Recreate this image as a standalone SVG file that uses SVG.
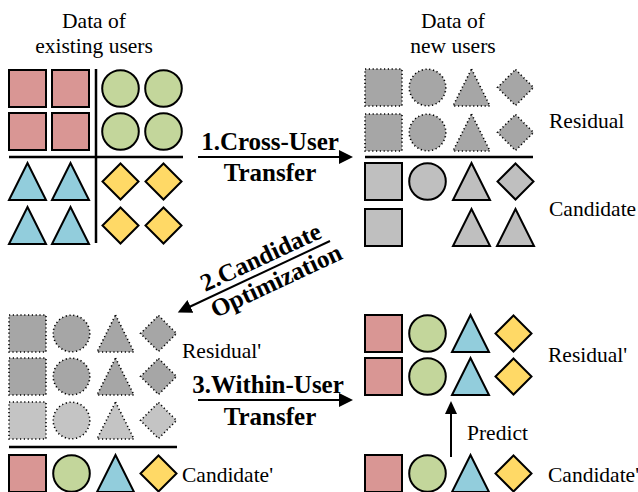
<svg xmlns="http://www.w3.org/2000/svg" width="638" height="492" viewBox="0 0 638 492">
<style>
text{font-family:"Liberation Serif","Times New Roman",serif;fill:#000}
.t{font-size:21.5px}
.b{font-size:25px;font-weight:bold}
.r{fill:#d99694;stroke:#000;stroke-width:2}
.g{fill:#c3d69b;stroke:#000;stroke-width:2}
.bl{fill:#92cddc;stroke:#000;stroke-width:2}
.y{fill:#ffd966;stroke:#000;stroke-width:2}
.c{fill:#bfbfbf;stroke:#000;stroke-width:2}
.d{fill:#a6a6a6;stroke:#000;stroke-width:1.6;stroke-dasharray:1.2 2.6}
.dl{fill:#c4c4c4;stroke:#000;stroke-width:1.6;stroke-dasharray:1.2 2.6}
.sep{stroke:#000;stroke-width:2.5;fill:none}
.arr{stroke:#000;stroke-width:2;fill:none}
</style>
<defs>
<rect id="sq" x="0" y="0" width="37" height="37"/>
<circle id="ci" cx="18.5" cy="18.5" r="18.3"/>
<path id="tr" d="M18.5 0 L37 37 L0 37 Z"/>
<path id="di" d="M18.5 0.5 L36.5 18.5 L18.5 36.5 L0.5 18.5 Z"/>
<marker id="ah" markerUnits="userSpaceOnUse" markerWidth="16" markerHeight="16" refX="6" refY="7" orient="auto">
<path d="M0 0 L14 7 L0 14 Z" fill="#000"/>
</marker>
<marker id="ahs" markerUnits="userSpaceOnUse" markerWidth="14" markerHeight="14" refX="5" refY="6" orient="auto">
<path d="M0 0 L13 6 L0 12 Z" fill="#000"/>
</marker>
</defs>

<g id="existing-users">
<text class="t" x="94" y="28" text-anchor="middle">Data of</text>
<text class="t" x="94" y="53" text-anchor="middle">existing users</text>
<use href="#sq" class="r" x="9" y="70"/><use href="#sq" class="r" x="52" y="70"/>
<use href="#sq" class="r" x="9" y="113"/><use href="#sq" class="r" x="52" y="113"/>
<use href="#ci" class="g" x="102" y="70"/><use href="#ci" class="g" x="145" y="70"/>
<use href="#ci" class="g" x="102" y="113"/><use href="#ci" class="g" x="145" y="113"/>
<use href="#tr" class="bl" x="9" y="163"/><use href="#tr" class="bl" x="52" y="163"/>
<use href="#tr" class="bl" x="9" y="207"/><use href="#tr" class="bl" x="52" y="207"/>
<use href="#di" class="y" x="102" y="163"/><use href="#di" class="y" x="145" y="163"/>
<use href="#di" class="y" x="102" y="207"/><use href="#di" class="y" x="145" y="207"/>
<path class="sep" d="M96 69 V243 M9 157 H183"/>
</g>

<g id="new-users">
<text class="t" x="453" y="28" text-anchor="middle">Data of</text>
<text class="t" x="453" y="53" text-anchor="middle">new users</text>
<use href="#sq" class="d" x="365" y="69"/><use href="#ci" class="d" x="409" y="69"/>
<use href="#tr" class="d" x="453" y="69"/><use href="#di" class="d" x="497" y="69"/>
<use href="#sq" class="d" x="365" y="114"/><use href="#ci" class="d" x="409" y="114"/>
<use href="#tr" class="d" x="453" y="114"/><use href="#di" class="d" x="497" y="114"/>
<path class="sep" d="M365 157 H533"/>
<use href="#sq" class="c" x="365" y="163"/><use href="#ci" class="c" x="409" y="163"/>
<use href="#tr" class="c" x="453" y="163"/><use href="#di" class="c" x="497" y="163"/>
<use href="#sq" class="c" x="365" y="209"/>
<use href="#tr" class="c" x="453" y="209"/><use href="#tr" class="c" x="497" y="209"/>
<text class="t" x="549" y="128">Residual</text>
<text class="t" x="549" y="216">Candidate</text>
</g>

<g id="optimized-existing">
<use href="#sq" class="d" x="9" y="315"/><use href="#ci" class="d" x="53" y="315"/>
<use href="#tr" class="d" x="97" y="315"/><use href="#di" class="d" x="140" y="315"/>
<use href="#sq" class="d" x="9" y="358"/><use href="#ci" class="d" x="53" y="358"/>
<use href="#tr" class="d" x="97" y="358"/><use href="#di" class="d" x="140" y="358"/>
<use href="#sq" class="dl" x="9" y="402"/><use href="#ci" class="dl" x="53" y="402"/>
<use href="#tr" class="dl" x="97" y="402"/><use href="#di" class="dl" x="140" y="402"/>
<path class="sep" d="M9 447 H177"/>
<use href="#sq" class="r" x="9" y="455"/><use href="#ci" class="g" x="53" y="455"/>
<use href="#tr" class="bl" x="97" y="455"/><use href="#di" class="y" x="140" y="455"/>
<text class="t" x="182" y="358">Residual'</text>
<text class="t" x="182" y="482">Candidate'</text>
</g>

<g id="predicted-new">
<use href="#sq" class="r" x="365" y="315"/><use href="#ci" class="g" x="409" y="315"/>
<use href="#tr" class="bl" x="452" y="315"/><use href="#di" class="y" x="495" y="315"/>
<use href="#sq" class="r" x="365" y="358"/><use href="#ci" class="g" x="409" y="358"/>
<use href="#tr" class="bl" x="452" y="358"/><use href="#di" class="y" x="495" y="358"/>
<use href="#sq" class="r" x="365" y="455"/><use href="#ci" class="g" x="409" y="455"/>
<use href="#tr" class="bl" x="452" y="455"/><use href="#di" class="y" x="495" y="455"/>
<text class="t" x="548" y="362">Residual'</text>
<text class="t" x="548" y="482">Candidate'</text>
<text class="t" x="467" y="440">Predict</text>
</g>

<g id="connectors">
<line class="arr" x1="198" y1="157" x2="345" y2="157" marker-end="url(#ah)"/>
<text class="b" x="270" y="150" text-anchor="middle">1.Cross-User</text>
<text class="b" x="270" y="181" text-anchor="middle">Transfer</text>
<line class="arr" x1="330" y1="241" x2="185" y2="309" marker-end="url(#ah)"/>
<g transform="translate(254 276) rotate(-25)">
<text class="b" x="14" y="-6" text-anchor="middle">2.Candidate</text>
<text class="b" x="18" y="22" text-anchor="middle">Optimization</text>
</g>
<line class="arr" x1="198" y1="400" x2="345" y2="400" marker-end="url(#ah)"/>
<text class="b" x="268" y="393" text-anchor="middle">3.Within-User</text>
<text class="b" x="270" y="425" text-anchor="middle">Transfer</text>
<line class="arr" x1="451" y1="457" x2="451" y2="409" marker-end="url(#ahs)"/>
</g>
</svg>
